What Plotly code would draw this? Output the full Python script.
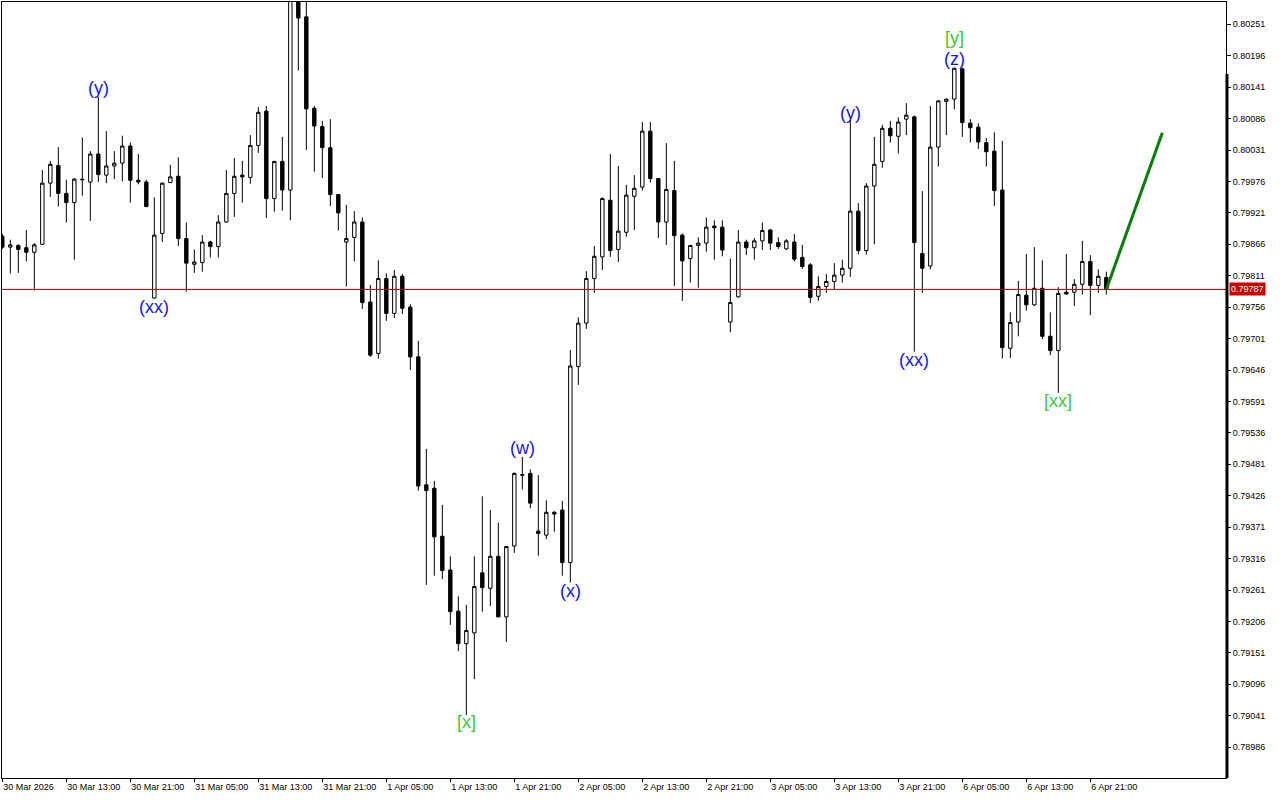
import pandas as pd
import plotly.graph_objects as go

# ---------------- data (H1 candles) ----------------
times = list(pd.date_range("2026-03-30 05:00", "2026-04-03 23:00", freq="h").strftime("%Y-%m-%d %H:%M")) + \
        list(pd.date_range("2026-04-06 00:00", "2026-04-06 23:00", freq="h").strftime("%Y-%m-%d %H:%M"))

open_ = [
    0.79880, 0.79861, 0.79864, 0.79860, 0.79852, 0.79866, 0.79973, 0.80004, 0.79955, 0.79939,
    0.79980, 0.79975, 0.80024, 0.79987, 0.80003, 0.80008, 0.80038, 0.79978, 0.79975, 0.79772,
    0.79885, 0.79974, 0.79985, 0.79876, 0.79831, 0.79834, 0.79870, 0.79862, 0.79905, 0.79955,
    0.79987, 0.79983, 0.80039, 0.80099, 0.79946, 0.80011, 0.79961, 0.80302, 0.80264, 0.80104,
    0.80072, 0.80035, 0.79953, 0.79870, 0.79878, 0.79905, 0.79765, 0.79675, 0.79806, 0.79745,
    0.79810, 0.79756, 0.79669, 0.79445, 0.79439, 0.79355, 0.79296, 0.79224, 0.79167, 0.79186,
    0.79291, 0.79264, 0.79320, 0.79214, 0.79338, 0.79463, 0.79465, 0.79364, 0.79357, 0.79397,
    0.79401, 0.79309, 0.79652, 0.79728, 0.79806, 0.79844, 0.79943, 0.79857, 0.79887, 0.79950,
    0.79966, 0.80064, 0.79981, 0.79905, 0.79960, 0.79882, 0.79841, 0.79864, 0.79868, 0.79898,
    0.79896, 0.79730, 0.79774, 0.79870, 0.79860, 0.79872, 0.79891, 0.79869, 0.79858, 0.79870,
    0.79843, 0.79830, 0.79775, 0.79792, 0.79801, 0.79812, 0.79824, 0.79924, 0.79855, 0.79968,
    0.80011, 0.80069, 0.80055, 0.80085, 0.80089, 0.79850, 0.79828, 0.80036, 0.80116, 0.80120,
    0.80173, 0.80078, 0.80071, 0.80044, 0.80029, 0.79961, 0.79684, 0.79730, 0.79777, 0.79760,
    0.79789, 0.79705, 0.79680, 0.79782, 0.79782, 0.79796, 0.79836, 0.79794, 0.79808,
]
high = [
    0.79884, 0.79874, 0.79866, 0.79891, 0.79868, 0.79996, 0.80012, 0.80036, 0.79979, 0.79982,
    0.80053, 0.80029, 0.80124, 0.80064, 0.80029, 0.80056, 0.80044, 0.80024, 0.79979, 0.79948,
    0.79974, 0.80005, 0.80018, 0.79904, 0.79857, 0.79882, 0.79872, 0.79917, 0.79996, 0.80017,
    0.80012, 0.80057, 0.80106, 0.80108, 0.80012, 0.80054, 0.80311, 0.80311, 0.80297, 0.80108,
    0.80082, 0.80085, 0.79954, 0.79935, 0.79924, 0.79913, 0.79795, 0.79838, 0.79815, 0.79821,
    0.79814, 0.79761, 0.79697, 0.79508, 0.79452, 0.79410, 0.79320, 0.79250, 0.79235, 0.79320,
    0.79425, 0.79401, 0.79379, 0.79338, 0.79467, 0.79494, 0.79472, 0.79462, 0.79418, 0.79399,
    0.79417, 0.79681, 0.79738, 0.79819, 0.79863, 0.79948, 0.80024, 0.80003, 0.79970, 0.79987,
    0.80080, 0.80080, 0.79982, 0.80043, 0.80012, 0.79885, 0.79865, 0.79878, 0.79913, 0.79908,
    0.79908, 0.79841, 0.79891, 0.79874, 0.79877, 0.79904, 0.79893, 0.79878, 0.79875, 0.79884,
    0.79865, 0.79833, 0.79810, 0.79814, 0.79833, 0.79839, 0.80084, 0.79938, 0.79973, 0.80054,
    0.80075, 0.80082, 0.80088, 0.80113, 0.80091, 0.79959, 0.80108, 0.80118, 0.80121, 0.80175,
    0.80175, 0.80085, 0.80078, 0.80052, 0.80062, 0.80047, 0.79747, 0.79802, 0.79849, 0.79861,
    0.79838, 0.79747, 0.79791, 0.79849, 0.79805, 0.79872, 0.79847, 0.79822, 0.79818,
]
low = [
    0.79858, 0.79815, 0.79816, 0.79836, 0.79785, 0.79865, 0.79949, 0.79932, 0.79904, 0.79839,
    0.79951, 0.79907, 0.79975, 0.79973, 0.79980, 0.79976, 0.79939, 0.79971, 0.79931, 0.79771,
    0.79870, 0.79973, 0.79863, 0.79783, 0.79816, 0.79818, 0.79843, 0.79843, 0.79904, 0.79914,
    0.79939, 0.79972, 0.80026, 0.79912, 0.79923, 0.79925, 0.79908, 0.80170, 0.80031, 0.79993,
    0.79982, 0.79933, 0.79890, 0.79792, 0.79836, 0.79753, 0.79669, 0.79666, 0.79732, 0.79737,
    0.79744, 0.79646, 0.79435, 0.79270, 0.79286, 0.79280, 0.79200, 0.79154, 0.79042, 0.79105,
    0.79223, 0.79233, 0.79213, 0.79170, 0.79326, 0.79437, 0.79404, 0.79321, 0.79350, 0.79363,
    0.79286, 0.79274, 0.79620, 0.79718, 0.79781, 0.79821, 0.79844, 0.79835, 0.79879, 0.79891,
    0.79960, 0.79974, 0.79877, 0.79865, 0.79793, 0.79767, 0.79799, 0.79790, 0.79853, 0.79839,
    0.79845, 0.79712, 0.79773, 0.79847, 0.79839, 0.79856, 0.79856, 0.79858, 0.79856, 0.79836,
    0.79823, 0.79763, 0.79767, 0.79781, 0.79786, 0.79799, 0.79809, 0.79849, 0.79848, 0.79866,
    0.80000, 0.80044, 0.80025, 0.80057, 0.79678, 0.79781, 0.79822, 0.80002, 0.80057, 0.80102,
    0.80054, 0.80044, 0.80033, 0.80002, 0.79933, 0.79666, 0.79667, 0.79705, 0.79750, 0.79758,
    0.79700, 0.79672, 0.79606, 0.79778, 0.79758, 0.79778, 0.79742, 0.79781, 0.79778,
]
close = [
    0.79861, 0.79865, 0.79857, 0.79852, 0.79865, 0.79973, 0.80006, 0.79955, 0.79939, 0.79980,
    0.79979, 0.80024, 0.79988, 0.80003, 0.80008, 0.80038, 0.79978, 0.79975, 0.79932, 0.79882,
    0.79973, 0.79984, 0.79876, 0.79833, 0.79835, 0.79870, 0.79862, 0.79905, 0.79955, 0.79985,
    0.79984, 0.80039, 0.80097, 0.79946, 0.80011, 0.79961, 0.80302, 0.80262, 0.80103, 0.80073,
    0.80035, 0.79953, 0.79921, 0.79876, 0.79905, 0.79764, 0.79672, 0.79806, 0.79745, 0.79810,
    0.79754, 0.79669, 0.79443, 0.79435, 0.79354, 0.79295, 0.79223, 0.79167, 0.79190, 0.79267,
    0.79265, 0.79320, 0.79214, 0.79337, 0.79465, 0.79462, 0.79413, 0.79360, 0.79397, 0.79394,
    0.79309, 0.79653, 0.79728, 0.79806, 0.79845, 0.79946, 0.79855, 0.79889, 0.79952, 0.79964,
    0.80064, 0.79981, 0.79905, 0.79962, 0.79881, 0.79837, 0.79864, 0.79868, 0.79896, 0.79895,
    0.79856, 0.79764, 0.79870, 0.79860, 0.79872, 0.79890, 0.79868, 0.79862, 0.79872, 0.79840,
    0.79827, 0.79773, 0.79792, 0.79801, 0.79812, 0.79824, 0.79924, 0.79855, 0.79968, 0.80006,
    0.80069, 0.80056, 0.80080, 0.80092, 0.79869, 0.79824, 0.80036, 0.80117, 0.80120, 0.80174,
    0.80079, 0.80070, 0.80045, 0.80028, 0.79960, 0.79685, 0.79729, 0.79778, 0.79760, 0.79789,
    0.79705, 0.79680, 0.79780, 0.79779, 0.79796, 0.79836, 0.79794, 0.79810, 0.79787,
]

x_tick_bars = [0, 8, 16, 24, 32, 40, 48, 56, 64, 72, 80, 88, 96, 104, 112, 120, 128, 136]
x_tick_text = ["30 Mar 2026", "30 Mar 13:00", "30 Mar 21:00", "31 Mar 05:00", "31 Mar 13:00",
               "31 Mar 21:00", "1 Apr 05:00", "1 Apr 13:00", "1 Apr 21:00", "2 Apr 05:00",
               "2 Apr 13:00", "2 Apr 21:00", "3 Apr 05:00", "3 Apr 13:00", "3 Apr 21:00",
               "6 Apr 05:00", "6 Apr 13:00", "6 Apr 21:00"]
y_tick_vals = [0.80251, 0.80196, 0.80141, 0.80086, 0.80031, 0.79976, 0.79921, 0.79866,
               0.79811, 0.79756, 0.79701, 0.79646, 0.79591, 0.79536, 0.79481, 0.79426,
               0.79371, 0.79316, 0.79261, 0.79206, 0.79151, 0.79096, 0.79041, 0.78986]

current_price = 0.79787

wave_text = ["(y)", "(xx)", "[x]", "(w)", "(x)", "(y)", "(xx)", "[y]", "(z)", "[xx]"]
wave_bar = [12, 19, 58, 65, 71, 106, 114, 119, 119, 132]
wave_price = [0.80140, 0.79756, 0.79030, 0.79510, 0.79259, 0.80096, 0.79664, 0.80227, 0.80190, 0.79592]
wave_color = ["#1414FF", "#1414FF", "#3CC83C", "#1414FF", "#1414FF", "#1414FF", "#1414FF",
              "#3CC83C", "#1414FF", "#3CC83C"]

arrow_bar = [138, 145]
arrow_price = [0.79787, 0.80061]

y_range = [0.78932, 0.80290]
x_range = [-0.04, 152.96]

# ---------------- figure ----------------
fig = go.Figure()
fig.add_trace(go.Candlestick(
    x=times, open=open_, high=high, low=low, close=close,
    increasing=dict(fillcolor="#FFFFFF", line=dict(color="#000000", width=1)),
    decreasing=dict(fillcolor="#000000", line=dict(color="#000000", width=1)),
    whiskerwidth=0, hoverinfo="skip", showlegend=False,
))

# current price line
fig.add_shape(type="line", xref="paper", x0=0, x1=1, yref="y", y0=current_price, y1=current_price,
              line=dict(color="#B00000", width=1), layer="above")
# forecast arrow
fig.add_shape(type="line", xref="x", yref="y",
              x0=arrow_bar[0], x1=arrow_bar[1], y0=arrow_price[0], y1=arrow_price[1],
              line=dict(color="#008000", width=3), layer="above")
# thick part of right scale
fig.add_shape(type="line", xref="paper", yref="y", x0=1.0008, x1=1.0008, y0=0.80164, y1=y_range[0],
              line=dict(color="#000000", width=3), layer="above")

for t, b, p, c in zip(wave_text, wave_bar, wave_price, wave_color):
    fig.add_annotation(x=times[b], y=p, xref="x", yref="y", text=t, showarrow=False,
                       font=dict(family="Liberation Sans, Arial, sans-serif", size=18, color=c),
                       xanchor="center", yanchor="middle")

fig.add_annotation(xref="paper", x=1, xanchor="left", xshift=3, yref="y", y=current_price,
                   text=f"{current_price:.5f}", showarrow=False, bgcolor="#C80000",
                   font=dict(family="Liberation Sans, Arial, sans-serif", size=9, color="#FFFFFF"),
                   borderpad=1)

fig.update_layout(
    width=1280, height=800,
    margin=dict(l=2, r=54, t=2, b=22),
    paper_bgcolor="#FFFFFF", plot_bgcolor="#FFFFFF",
    showlegend=False, boxgap=0.4,
    font=dict(family="Liberation Sans, Arial, sans-serif", size=9, color="#000000"),
    xaxis=dict(type="category", range=x_range, rangeslider=dict(visible=False),
               tickmode="array", tickvals=[times[i] for i in x_tick_bars], ticktext=x_tick_text,
               ticks="outside", ticklen=3, tickcolor="#000000", ticklabelposition="outside right",
               showgrid=False, zeroline=False, showline=True, mirror=True,
               linecolor="#000000", linewidth=1, tickfont=dict(size=9)),
    yaxis=dict(side="right", range=y_range, tickmode="array", tickvals=y_tick_vals,
               ticktext=[f"{v:.5f}" for v in y_tick_vals],
               ticks="outside", ticklen=4, tickcolor="#000000",
               showgrid=False, zeroline=False, showline=True, mirror=True,
               linecolor="#000000", linewidth=1, tickfont=dict(size=9)),
)

fig.write_html("out.html", post_script="document.body.style.margin='0';",
               config={"displayModeBar": False, "staticPlot": True})
